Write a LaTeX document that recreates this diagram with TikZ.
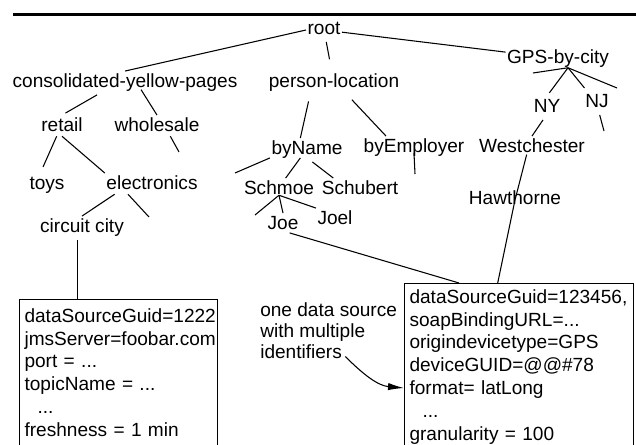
\documentclass[tikz,border=0pt]{standalone}
\usepackage{fontspec}
\setmainfont{Liberation Sans}
\usetikzlibrary{arrows.meta}

\begin{document}
\begin{tikzpicture}[
                x=0.75pt, y=0.75pt,
                every node/.style={font=\fontsize{14.3}{17}\selectfont},
                tnode/.style={inner xsep=1pt, inner ysep=2.5pt, text height=10pt, text depth=2.5pt},
                databox/.style={draw, line width=0.8pt, anchor=north west, align=left, inner xsep=3.75pt, text depth=120pt,
                                font=\fontsize{14.3}{17.1}\selectfont,
                                execute at begin node={\hyphenpenalty=10000\exhyphenpenalty=10000}},
                branch/.style={line width=0.8pt},
                pointer/.style={line width=0.8pt,-{Latex[length=12pt,width=5.5pt]}}
            ]
                \useasboundingbox (0,0) rectangle (636,-445);
                \clip (0,0) rectangle (636,-445);

                % heading rule
                \draw [line width=2.25pt] (13,-14.3) -- (636,-14.3);

                % Tree nodes
                \node (root) [tnode] at (324,-30) {root};
                \node (cyp) [tnode] at (125,-83) {consolidated-yellow-pages};
                \node (pl) [tnode] at (334,-83) {person-location};
                \node (gps) [tnode] at (558,-58.5) {GPS-by-city};
                \node (retail) [tnode] at (62,-127) {retail};
                \node (wholesale) [tnode] at (157,-127) {wholesale};
                \node (ny) [tnode] at (547,-108) {NY};
                \node (nj) [tnode] at (597,-103) {NJ};
                \node (byname) [tnode] at (307,-150) {byName};
                \node (byemp) [tnode] at (414,-148) {byEmployer};
                \node (wc) [tnode] at (532,-148) {Westchester};
                \node (toys) [tnode] at (47,-185) {toys};
                \node (elec) [tnode] at (152,-185) {electronics};
                \node (schmoe) [tnode] at (279,-190) {Schmoe};
                \node (schubert) [tnode] at (360,-190) {Schubert};
                \node (haw) [tnode] at (515,-200) {Hawthorne};
                \node (joel) [tnode] at (335,-220) {Joel};
                \node (joe) [tnode] at (283,-225) {Joe};
                \node (cc) [tnode] at (82,-228) {circuit city};

                % Data source boxes
                \node (ds1) [databox, text width=141pt, inner ysep=6.75pt] at (19,-299)
                    {dataSourceGuid=1222\\jmsServer=foobar.com\\port = ...\\topicName = ...\\\hspace*{9.75pt}...\\freshness = 1 min};
                \node (ds2) [databox, text width=164.25pt, inner ysep=4.5pt] at (404,-283)
                    {dataSourceGuid=123456,\\soapBindingURL=...\\origindevicetype=GPS\\deviceGUID=@@\#78\\format= latLong\\\hspace*{9.75pt}...\\granularity = 100};
                \node (note) [anchor=north west, inner sep=0pt, align=left, font=\fontsize{14.3}{16}\selectfont] at (260,-302)
                    {one data source\\with multiple\\identifiers};

                % Loose ends
                \coordinate (wsstub) at (179,-152);
                \coordinate (elstub) at (149,-217);
                \coordinate (bnstub) at (235,-173);
                \coordinate (bestub) at (415,-174);
                \coordinate (smstub) at (255,-215);
                \coordinate (gpsl) at (533,-73);
                \coordinate (gpsr) at (617,-88);
                \coordinate (njstub) at (604,-131);
                \coordinate (gpsfork) at ([xshift=7.5pt,yshift=2pt]gps.south);
                \coordinate (notetail) at ([xshift=64pt,yshift=2pt]note.south west);

                % Branches
                \draw [branch] (root.west) -- (cyp.north);
                \draw [branch, shorten >=9pt] (root) -- (pl);
                \draw [branch] (root) -- (gps);
                \draw [branch, shorten >=3pt] ([xshift=-21pt]cyp.south) -- (retail.north);
                \draw [branch] ([xshift=12pt,yshift=4pt]cyp.south) -- (wholesale.north);
                \draw [branch, shorten >=5pt] ([xshift=-4pt,yshift=2pt]retail.south) -- ([xshift=-5pt]toys.north);
                \draw [branch] ([yshift=2pt]retail.south) -- (elec.north west);
                \draw [branch] ([xshift=10pt,yshift=2pt]wholesale.south) -- (wsstub);
                \draw [branch] ([xshift=-28pt,yshift=2pt]elec.south) -- (cc.north);
                \draw [branch] ([xshift=-18pt,yshift=2pt]elec.south) -- (elstub);
                \draw [branch] ([xshift=-3.3pt]cc.south) -- ([xshift=-3.3pt]cc.south |- ds1.north);
                \draw [branch, shorten <=5pt] ([xshift=-18pt]pl.south) -- ([xshift=-5pt]byname.north);
                \draw [branch, shorten <=5pt] ([xshift=10pt]pl.south) -- ([xshift=-21pt]byemp.north);
                \draw [branch] ([yshift=3pt]byname.south west) -- (bnstub);
                \draw [branch] ([xshift=-5pt,yshift=3pt]byname.south) -- ([xshift=5pt]schmoe.north);
                \draw [branch] ([xshift=4pt]byname.south) -- ([xshift=-20pt]schubert.north);
                \draw [branch] ([yshift=5pt]byemp.south) -- (bestub);
                \draw [branch] ([yshift=5pt]schmoe.south) -- (smstub);
                \draw [branch] ([yshift=5pt]schmoe.south) -- (joe.north);
                \draw [branch] ([yshift=5pt]schmoe.south) -- (joel.north west);
                \draw [branch] ([xshift=5pt,yshift=3pt]joe.south) -- ([xshift=-45pt]ds2.north);
                \draw [branch] (gpsfork) -- (gpsl);
                \draw [branch, shorten >=3pt] (gpsfork) -- (ny.north);
                \draw [branch, shorten >=3pt] (gpsfork) -- ([xshift=-7.5pt]nj.north);
                \draw [branch] (gpsfork) -- (gpsr);
                \draw [branch] ([xshift=-3pt]ny.south) -- (wc.north);
                \draw [branch] ([xshift=2pt]nj.south) -- (njstub);
                \draw [branch] ([xshift=-4pt,yshift=4pt]wc.south) -- (haw.center) -- ([xshift=-16pt]ds2.north);

                % Annotation arrow
                \draw [pointer] (notetail) to[out=-45, in=175] ([yshift=-78.75pt]ds2.north west);

            \end{tikzpicture}
\end{document}
